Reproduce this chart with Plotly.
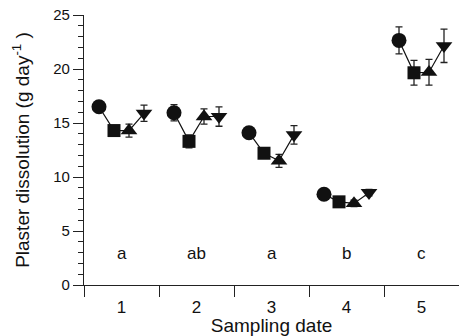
import plotly.graph_objects as go

dates = [1, 2, 3, 4, 5]
date_labels = ["1", "2", "3", "4", "5"]
letters = ["a", "ab", "a", "b", "c"]

circle_vals = [16.5, 15.95, 14.1, 8.4, 22.65]
circle_err = [0.4, 0.75, 0.4, 0.3, 1.25]
square_vals = [14.3, 13.3, 12.2, 7.7, 19.65]
square_err = [0.4, 0.6, 0.4, 0.3, 1.15]
tri_up_vals = [14.3, 15.6, 11.5, 7.55, 19.7]
tri_up_err = [0.6, 0.7, 0.6, 0.3, 1.2]
tri_down_vals = [15.9, 15.6, 13.9, 8.55, 22.15]
tri_down_err = [0.75, 0.9, 0.85, 0.3, 1.55]

offsets = [-0.3, -0.1, 0.1, 0.3]
series = [
    (circle_vals, circle_err, "circle", 15),
    (square_vals, square_err, "square", 13),
    (tri_up_vals, tri_up_err, "triangle-up", 14.5),
    (tri_down_vals, tri_down_err, "triangle-down", 14.5),
]

fig = go.Figure()

# connecting lines within each sampling date
lx, ly = [], []
for i, d in enumerate(dates):
    for k, (vals, _, _, _) in enumerate(series):
        lx.append(d + offsets[k])
        ly.append(vals[i])
    lx.append(None)
    ly.append(None)
fig.add_trace(go.Scatter(x=lx, y=ly, mode="lines",
                         line=dict(color="#111", width=1.2),
                         showlegend=False, hoverinfo="skip"))

for k, (vals, err, sym, sz) in enumerate(series):
    fig.add_trace(go.Scatter(
        x=[d + offsets[k] for d in dates], y=vals, mode="markers",
        marker=dict(symbol=sym, size=sz, color="#111", line=dict(width=0)),
        error_y=dict(type="data", array=err, visible=True, color="#222",
                     thickness=1.3, width=3.5),
        showlegend=False))

for d, t in zip(dates, letters):
    fig.add_annotation(x=d, y=2.9, text=t, showarrow=False,
                       font=dict(size=17, color="#111"))

font_family = "Liberation Sans, Arial, sans-serif"
fig.update_layout(
    width=460, height=336,
    margin=dict(l=84, r=1, t=15, b=51),
    paper_bgcolor="white", plot_bgcolor="white",
    font=dict(family=font_family, color="#111"),
    xaxis=dict(
        range=[0.5, 5.5], tickvals=dates, ticktext=date_labels,
        ticks="", showline=True, linecolor="#222", linewidth=1.3,
        showgrid=False, zeroline=False, tickfont=dict(size=17),
        ticklabelstandoff=6, automargin=False,
        minor=dict(tickvals=[0.5, 1.5, 2.5, 3.5, 4.5], ticks="outside",
                   ticklen=11, tickcolor="#222", tickwidth=1.3, showgrid=False),
        title=dict(text="Sampling date", font=dict(size=19), standoff=0),
    ),
    yaxis=dict(
        range=[0, 25], tickvals=[0, 5, 10, 15, 20, 25],
        ticks="outside", ticklen=10, tickcolor="#222", tickwidth=1.3,
        showline=True, linecolor="#222", linewidth=1.3,
        showgrid=False, zeroline=False, tickfont=dict(size=15),
        automargin=False,
        minor=dict(dtick=1, ticks="outside", ticklen=5, tickcolor="#222",
                   tickwidth=1, showgrid=False),
        title=dict(text="Plaster dissolution (g day<sup>-1</sup> )",
                   font=dict(size=19), standoff=18),
    ),
)

fig.write_html("out.html",
               config={"displayModeBar": False},
               post_script="document.body.style.margin='0';")
